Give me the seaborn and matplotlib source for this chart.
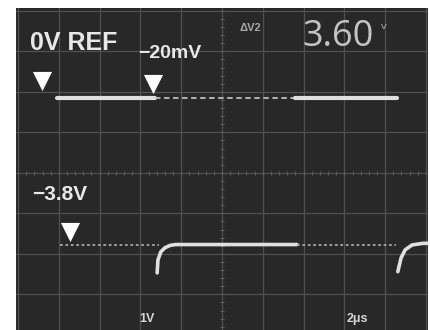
import numpy as np
import pandas as pd
import matplotlib
matplotlib.use("Agg")
import matplotlib.pyplot as plt
import seaborn as sns

# ---- data (screen divisions: x 0..10, y -4..4) ----
top_solid1_x = [0.96, 3.36]
top_solid1_y = [1.85, 1.85]
top_dash_x = [3.36, 6.79]
top_dash_y = [1.85, 1.85]
top_solid2_x = [6.79, 9.29]
top_solid2_y = [1.85, 1.85]

bot_dot1_x = [1.03, 3.45]
bot_dot1_y = [-1.78, -1.78]
bot_curve1_x = [3.41, 3.43, 3.50, 3.60, 3.73, 3.87, 6.84]
bot_curve1_y = [-2.47, -2.15, -1.95, -1.85, -1.79, -1.77, -1.77]
bot_dot2_x = [6.84, 9.26]
bot_dot2_y = [-1.78, -1.78]
bot_curve2_x = [9.31, 9.39, 9.49, 9.66, 9.93, 10.1]
bot_curve2_y = [-2.44, -2.10, -1.90, -1.78, -1.74, -1.74]

marker_x = [0.58, 3.30, 1.27]
marker_y = [2.26, 2.20, -1.45]

ref_labels = ["0V REF", "\u221220mV", "\u22123.8V"]
readout_label = "3.60"
scale_labels = ["1V", "2\u03bcs"]

sns.set_theme(style="dark")
plt.rcParams['font.family'] = ['Liberation Sans', 'DejaVu Sans']

BG = "#282828"
TR = "#e0e0e0"
GR = "#505050"

fig = plt.figure(figsize=(4.3, 3.3), dpi=100, facecolor="white")
ax = fig.add_axes([16/430, 0, 412/430, 322/330])
ax.set_facecolor(BG)
ax.set_xlim(-0.05, 10.05)
ax.set_ylim(-3.88, 4.07)
for s in ax.spines.values():
    s.set_visible(False)
ax.set_xticks([]); ax.set_yticks([])

# grid
for gx in range(0, 11):
    ax.axvline(gx, color=GR, lw=0.9, zorder=1)
for gy in range(-4, 5):
    ax.axhline(gy, color=GR, lw=0.9, zorder=1)
# center line minor ticks
tx = np.arange(0, 10.01, 0.2)
ax.scatter(tx, np.zeros_like(tx), marker="|", s=10, color="#5c5c5c", lw=0.8, zorder=1)
ty = np.arange(-4, 4.01, 0.2)
ax.scatter(np.full_like(ty, 5.0), ty, marker="_", s=10, color="#5c5c5c", lw=0.8, zorder=1)

def seg(x, y, **kw):
    df = pd.DataFrame({"x": x, "y": y})
    sns.lineplot(data=df, x="x", y="y", ax=ax, sort=False, estimator=None, **kw)

seg(top_solid1_x, top_solid1_y, color=TR, lw=3.0, zorder=3)
seg(top_dash_x, top_dash_y, color="#bdbdbd", lw=1.3, linestyle=(0, (3, 2)), zorder=3)
seg(top_solid2_x, top_solid2_y, color=TR, lw=3.0, zorder=3)

seg(bot_dot1_x, bot_dot1_y, color="#a8a8a8", lw=1.3, linestyle=(0, (1.5, 1.5)), zorder=3)
seg(bot_curve1_x, bot_curve1_y, color=TR, lw=2.6, zorder=3)
seg(bot_dot2_x, bot_dot2_y, color="#a8a8a8", lw=1.3, linestyle=(0, (1.5, 1.5)), zorder=3)
seg(bot_curve2_x, bot_curve2_y, color=TR, lw=2.6, zorder=3)

ax.scatter(marker_x, marker_y, marker="v", s=190, color="white", lw=0, zorder=4)

ax.set_xlabel(""); ax.set_ylabel("")

TXT = "#e8e8e8"
fig.text(30/430, 1 - 50/330, ref_labels[0], color=TXT, fontsize=18, fontweight="bold")
fig.text(138/430, 1 - 58/330, ref_labels[1], color=TXT, fontsize=14, fontweight="bold")
fig.text(32/430, 1 - 200/330, ref_labels[2], color=TXT, fontsize=15, fontweight="bold")
fig.text(240/430, 1 - 31/330, "\u0394V2", color="#a8a8a8", fontsize=8, fontweight="bold")
fig.text(302/430, 1 - 46/330, readout_label, color="#c4c4c4", fontsize=26, fontweight="normal",
         family=["Open Sans", "DejaVu Sans"])
fig.text(381/430, 1 - 29/330, "V", color="#c4c4c4", fontsize=6)
fig.text(139/430, 1 - 322/330, scale_labels[0], color="#d6d6d6", fontsize=9, fontweight="bold")
fig.text(347/430, 1 - 322/330, scale_labels[1], color="#d6d6d6", fontsize=9, fontweight="bold")

fig.savefig("out.png", dpi=100, facecolor="white")
